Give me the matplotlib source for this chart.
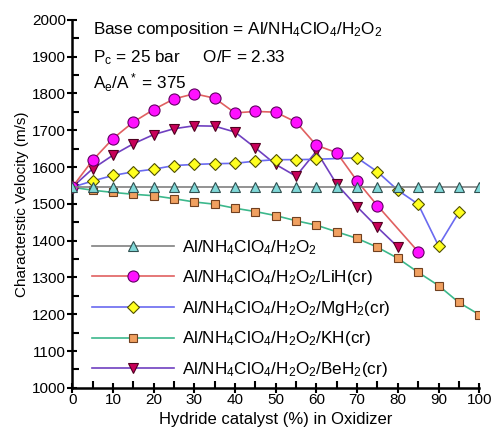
import numpy as np
import matplotlib
matplotlib.use("Agg")
import matplotlib.pyplot as plt
from matplotlib.ticker import MultipleLocator

plt.rcParams['font.family'] = ['Liberation Sans', 'DejaVu Sans']
plt.rcParams['mathtext.fontset'] = 'custom'
plt.rcParams['mathtext.rm'] = 'Liberation Sans'
plt.rcParams['mathtext.it'] = 'Liberation Sans'

# x = hydride catalyst (%) in oxidizer, y = characteristic velocity (m/s)
x_base = list(range(0, 101, 5))
base = [1545] * 21

x_lih = list(range(0, 76, 5)) + [85]
lih = [1545, 1618, 1677, 1722, 1756, 1785, 1799, 1787, 1747, 1751, 1749,
       1722, 1659, 1639, 1562, 1495, 1370]

x_mgh = list(range(0, 61, 5)) + [70, 75, 80, 85, 90, 95]
mgh = [1545, 1562, 1577, 1587, 1594, 1604, 1607, 1609, 1610, 1616, 1620,
       1620, 1621, 1625, 1587, 1537, 1499, 1386, 1477]

x_kh = list(range(0, 101, 5))
kh = [1545, 1537, 1531, 1526, 1522, 1514, 1505, 1499, 1488, 1479, 1468,
      1454, 1442, 1424, 1406, 1382, 1352, 1314, 1278, 1232, 1199]

x_beh = list(range(0, 81, 5))
beh = [1545, 1595, 1632, 1663, 1688, 1704, 1712, 1711, 1695, 1652, 1607,
       1575, 1643, 1553, 1492, 1436, 1383]

lab_base = r"Al/NH$_4$ClO$_4$/H$_2$O$_2$"
lab_lih = r"Al/NH$_4$ClO$_4$/H$_2$O$_2$/LiH(cr)"
lab_mgh = r"Al/NH$_4$ClO$_4$/H$_2$O$_2$/MgH$_2$(cr)"
lab_kh = r"Al/NH$_4$ClO$_4$/H$_2$O$_2$/KH(cr)"
lab_beh = r"Al/NH$_4$ClO$_4$/H$_2$O$_2$/BeH$_2$(cr)"

fig = plt.figure(figsize=(4.91, 4.30), dpi=100)
ax = fig.add_axes([0.147, 0.098, 0.829, 0.856])

ax.plot(x_kh, kh, '-s', color='#3cb88c', lw=1.2, ms=5.5,
        mfc='#f0a060', mec='#704020', mew=0.8, label=lab_kh, zorder=3)
ax.plot(x_beh, beh, '-v', color='#7040c0', lw=1.2, ms=7,
        mfc='#c8005a', mec='#500020', mew=0.8, label=lab_beh, zorder=4)
ax.plot(x_mgh, mgh, '-D', color='#6a6af0', lw=1.2, ms=6,
        mfc='#ffff20', mec='#505000', mew=0.8, label=lab_mgh, zorder=5)
ax.plot(x_lih, lih, '-o', color='#e06060', lw=1.2, ms=8,
        mfc='#ff10ff', mec='#600060', mew=0.8, label=lab_lih, zorder=6)
ax.plot(x_base, base, '-^', color='#808080', lw=1.2, ms=6.5,
        mfc='#80d8d8', mec='#305050', mew=0.8, label=lab_base, zorder=7)

ax.set_xlim(0, 100)
ax.set_ylim(1000, 2000)
ax.xaxis.set_major_locator(MultipleLocator(10))
ax.xaxis.set_minor_locator(MultipleLocator(5))
ax.yaxis.set_major_locator(MultipleLocator(100))
ax.yaxis.set_minor_locator(MultipleLocator(50))
ax.tick_params(which='major', direction='inout', length=7, width=1.5, labelsize=11)
ax.tick_params(which='minor', direction='in', length=5, width=1.5)
ax.tick_params(axis='x', pad=0)
ax.tick_params(axis='y', pad=1)
for s in ['top', 'right']:
    ax.spines[s].set_visible(False)
for s in ['left', 'bottom']:
    ax.spines[s].set_linewidth(1.8)

ax.set_xlabel("Hydride catalyst (%) in Oxidizer", fontsize=12, labelpad=4)
ax.set_ylabel("Characterstic Velocity (m/s)", fontsize=11, labelpad=2)

ax.text(5, 1973, r"Base composition = Al/NH$_4$ClO$_4$/H$_2$O$_2$", fontsize=12.3, va='center')
ax.text(5, 1897, r"P$_c$ = 25 bar     O/F = 2.33", fontsize=12.3, va='center')
ax.text(5, 1828, r"A$_e$/A$^*$ = 375", fontsize=12.3, va='center')

h, l = ax.get_legend_handles_labels()
order = [4, 3, 2, 0, 1]
ax.legend([h[i] for i in order], [l[i] for i in order], loc='lower left',
          bbox_to_anchor=(0.01, -0.018), frameon=False, fontsize=12.3,
          handlelength=4.8, labelspacing=0.68, handletextpad=0.5)

fig.savefig("out.png", dpi=100)
